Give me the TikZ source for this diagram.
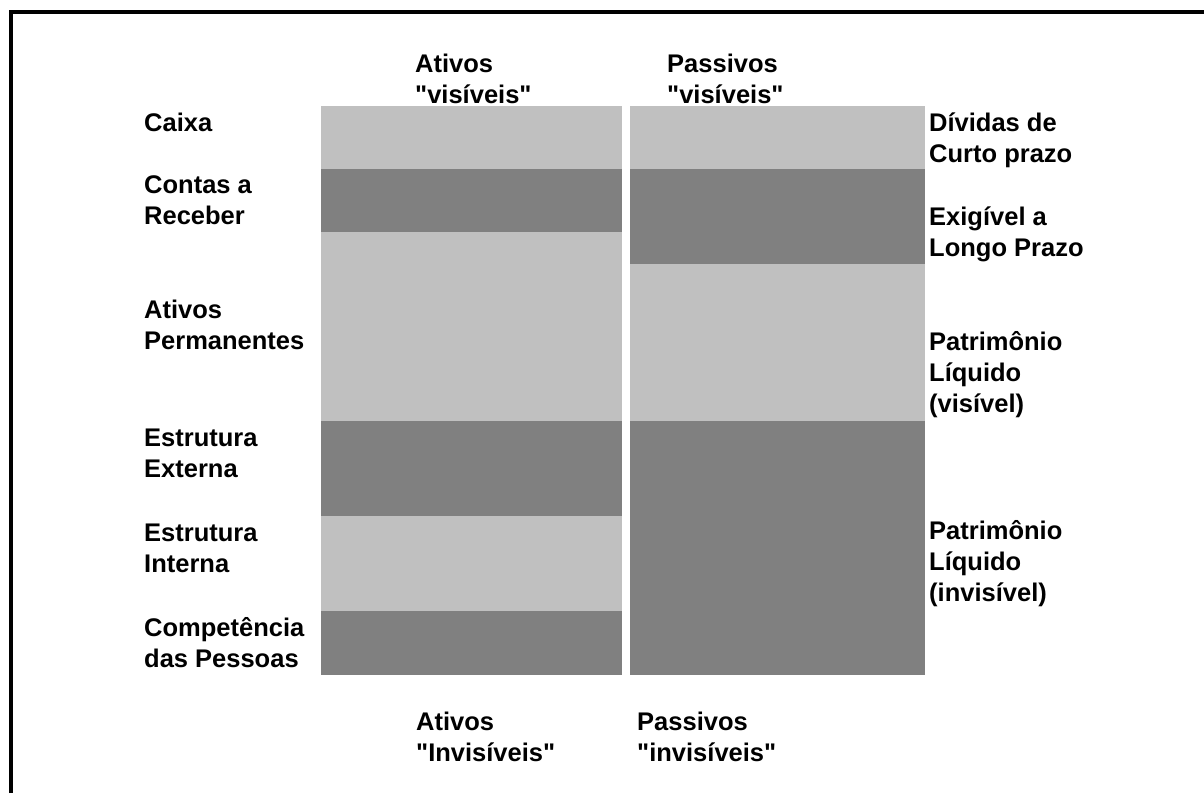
\documentclass[tikz,border=0pt]{standalone}
\usepackage{fontspec}
\setmainfont{Liberation Sans}[Ligatures=TeXOff]
\definecolor{lightg}{HTML}{C0C0C0}
\definecolor{darkg}{HTML}{808080}
\begin{document}
\begin{tikzpicture}[x=1pt,y=-1pt,
  lbl/.style={anchor=base west,inner sep=0pt,align=left,font=\fontsize{25.5}{31}\selectfont\bfseries},
  lightbar/.style={fill=lightg,draw=none},
  darkbar/.style={fill=darkg,draw=none},
  frameline/.style={line width=4pt,draw=black}]
\useasboundingbox (0,0) rectangle (1204,793);
% frame
\draw[frameline] (11.3,793) -- (11.3,12) -- (1204,12);
% left column
\fill[lightbar] (321,106) rectangle (622,169);
\fill[darkbar]  (321,169) rectangle (622,232);
\fill[lightbar] (321,232) rectangle (622,421);
\fill[darkbar]  (321,421) rectangle (622,516);
\fill[lightbar] (321,516) rectangle (622,611);
\fill[darkbar]  (321,611) rectangle (622,675);
% right column
\fill[lightbar] (630,106) rectangle (925,169);
\fill[darkbar]  (630,169) rectangle (925,264);
\fill[lightbar] (630,264) rectangle (925,421);
\fill[darkbar]  (630,421) rectangle (925,675);
% headers (anchor = baseline of the last line)
\node[lbl] (hav) at (415,103) {Ativos\\"visíveis"};
\node[lbl] (hpv) at (667,103) {Passivos\\"visíveis"};
\node[lbl] (fai) at (416,761) {Ativos\\"Invisíveis"};
\node[lbl] (fpi) at (637,761) {Passivos\\"invisíveis"};
% left labels
\node[lbl] (caixa) at (144,131) {Caixa};
\node[lbl] (contas) at (144,224) {Contas a\\Receber};
\node[lbl] (perm) at (144,349) {Ativos\\Permanentes};
\node[lbl] (ext) at (144,477) {Estrutura\\Externa};
\node[lbl] (int) at (144,572) {Estrutura\\Interna};
\node[lbl] (comp) at (144,667) {Competência\\das Pessoas};
% right labels
\node[lbl] (div) at (929,162) {Dívidas de\\Curto prazo};
\node[lbl] (exig) at (929,256) {Exigível a\\Longo Prazo};
\node[lbl] (plv) at (929,412) {Patrimônio\\Líquido\\(visível)};
\node[lbl] (pli) at (929,601) {Patrimônio\\Líquido\\(invisível)};
\end{tikzpicture}
\end{document}
